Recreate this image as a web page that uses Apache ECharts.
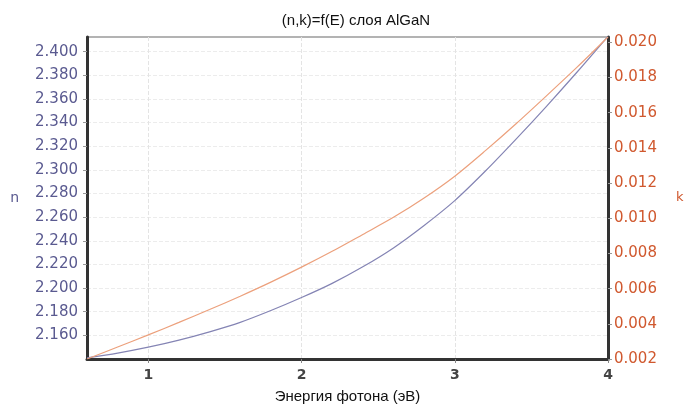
<!DOCTYPE html>
<html>
<head>
<meta charset="utf-8">
<script src="https://cdn.jsdelivr.net/npm/echarts@6/dist/echarts.min.js"></script>
<style>html,body{margin:0;padding:0;background:#fff;}#c{width:692px;height:409px;}</style>
</head>
<body>
<div id="c"></div>
<script>
const energy = [0.6, 0.8, 1.0, 1.2, 1.4, 1.6, 1.8, 2.0, 2.2, 2.4, 2.6, 2.8, 3.0, 3.2, 3.4, 3.6, 3.8, 4.0];
const nValues = [2.141, 2.145, 2.150, 2.156, 2.163, 2.171, 2.181, 2.192, 2.204, 2.218, 2.234, 2.253, 2.274, 2.299, 2.326, 2.354, 2.383, 2.413];
const kValues = [0.0020, 0.00268, 0.00337, 0.00408, 0.00481, 0.00557, 0.00637, 0.00722, 0.00812, 0.00908, 0.01005, 0.01115, 0.01239, 0.01384, 0.01537, 0.01697, 0.0186, 0.0203];
const xTicks = [1, 2, 3, 4];
const nTicks = [2.16, 2.18, 2.20, 2.22, 2.24, 2.26, 2.28, 2.30, 2.32, 2.34, 2.36, 2.38, 2.40];
const kTicks = [0.002, 0.004, 0.006, 0.008, 0.010, 0.012, 0.014, 0.016, 0.018, 0.020];
const titleText = '(n,k)=f(E) слоя AlGaN';
const xName = 'Энергия фотона (эВ)';

const nColor = '#5a5a90';
const kColor = '#d0582e';

const chart = echarts.init(document.getElementById('c'));
chart.setOption({
  animation: false,
  backgroundColor: '#fff',
  title: {
    text: titleText, left: 351, top: 8, textAlign: 'center',
    textStyle: { fontFamily: 'Liberation Sans', fontSize: 15, fontWeight: 'normal', color: '#111' }
  },
  grid: { left: 87, right: 84, top: 37, bottom: 50, show: true, borderColor: '#9a9a9a', borderWidth: 1.5 },
  xAxis: {
    type: 'value', min: 0.6, max: 4,
    name: xName, nameLocation: 'middle', nameGap: 30,
    nameTextStyle: { fontFamily: 'Liberation Sans', fontSize: 15, color: '#111' },
    axisLine: { lineStyle: { color: '#333', width: 3 } },
    axisTick: { show: true, length: 4, customValues: xTicks, lineStyle: { color: '#888' } },
    axisLabel: { customValues: xTicks, fontFamily: 'DejaVu Sans', fontSize: 14, color: '#444', fontWeight: 'bold', margin: 9 },
    splitLine: { show: true, lineStyle: { color: '#e4e4e4', type: 'dashed', width: 1 } }
  },
  yAxis: [
    {
      type: 'value', min: 2.14, max: 2.4124, position: 'left',
      name: 'n', nameLocation: 'middle', nameGap: 68, nameRotate: 0,
      nameTextStyle: { fontFamily: 'DejaVu Sans', fontSize: 14, color: nColor },
      axisLine: { show: true, lineStyle: { color: '#333', width: 3 } },
      axisTick: { show: true, length: 4, customValues: nTicks, lineStyle: { color: '#999' } },
      axisLabel: { customValues: nTicks, fontFamily: 'DejaVu Sans', fontSize: 15, color: nColor, margin: 9,
        formatter: v => v.toFixed(3) },
      splitLine: { show: true, lineStyle: { color: '#ececec', type: 'dashed', width: 1 } }
    },
    {
      type: 'value', min: 0.002, max: 0.0203, position: 'right',
      name: 'k', nameLocation: 'middle', nameGap: 68, nameRotate: 0,
      nameTextStyle: { fontFamily: 'DejaVu Sans', fontSize: 13, color: kColor },
      axisLine: { show: true, lineStyle: { color: '#333', width: 3 } },
      axisTick: { show: true, length: 4, customValues: kTicks, lineStyle: { color: '#999' } },
      axisLabel: { customValues: kTicks, fontFamily: 'DejaVu Sans', fontSize: 15, color: kColor, margin: 6,
        formatter: v => v.toFixed(3) },
      splitLine: { show: false }
    }
  ],
  series: [
    {
      name: 'n', type: 'line', yAxisIndex: 0, showSymbol: false, smooth: 0.3,
      data: energy.map((e, i) => [e, nValues[i]]),
      lineStyle: { color: '#8484b4', width: 1.2 }
    },
    {
      name: 'k', type: 'line', yAxisIndex: 1, showSymbol: false, smooth: 0.3,
      data: energy.map((e, i) => [e, kValues[i]]),
      lineStyle: { color: '#eca07c', width: 1.2 }
    }
  ]
});
</script>
</body>
</html>
